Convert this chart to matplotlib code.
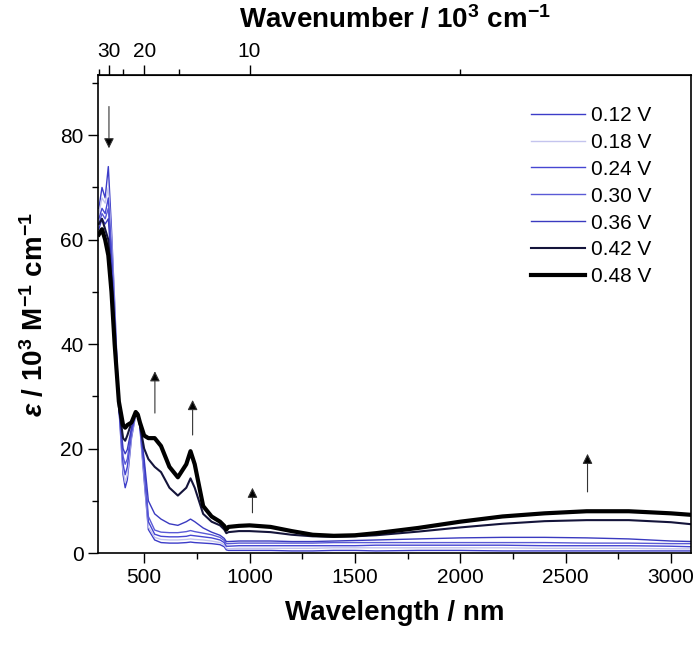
import numpy as np
import matplotlib
matplotlib.use("Agg")
import matplotlib.pyplot as plt
import matplotlib.ticker as mticker

plt.rcParams['font.family'] = ['Liberation Sans', 'DejaVu Sans']
plt.rcParams['mathtext.fontset'] = 'custom'
plt.rcParams['mathtext.rm'] = 'Liberation Sans:bold'
plt.rcParams['mathtext.it'] = 'Liberation Sans:italic:bold'
plt.rcParams['mathtext.default'] = 'regular'

# wavelength grid (nm)
WL = [285, 300, 315, 330, 345, 360, 380, 400, 410, 420, 440, 460, 470, 480, 500,
      520, 550, 580, 620, 660, 700, 720, 740, 780, 820, 860, 880, 890, 900, 950,
      1000, 1100, 1200, 1300, 1400, 1500, 1600, 1800, 2000, 2200, 2400, 2600,
      2800, 3000, 3100]

# epsilon / 10^3 M^-1 cm^-1
E_012 = [66, 70, 68, 74, 62, 48, 28, 15, 12.5, 14, 22, 26.5, 26.8, 24, 14,
         4.5, 2.5, 2.0, 1.9, 1.9, 2.0, 2.1, 2.0, 1.9, 1.8, 1.6, 1.2, 0.6, 0.5, 0.5,
         0.5, 0.5, 0.4, 0.4, 0.5, 0.5, 0.4, 0.5, 0.5, 0.4, 0.4, 0.4,
         0.4, 0.4, 0.4]
E_018 = [65, 68, 67, 70, 60, 47, 28, 16, 13.5, 15, 22.5, 26.5, 26.8, 24, 15,
         5.0, 3.0, 2.6, 2.5, 2.5, 2.6, 2.7, 2.6, 2.5, 2.3, 2.0, 1.6, 0.9, 0.8, 0.9,
         0.9, 0.9, 0.9, 0.9, 1.0, 1.0, 1.0, 1.0, 1.0, 1.0, 0.9, 0.9,
         0.9, 0.8, 0.8]
E_024 = [64, 66, 65, 68, 58, 46, 28, 17, 15, 16.5, 23, 26.7, 26.8, 24.2, 16,
         6.0, 3.6, 3.2, 3.1, 3.1, 3.2, 3.4, 3.3, 3.1, 2.9, 2.5, 2.0, 1.3, 1.3, 1.4,
         1.4, 1.4, 1.4, 1.4, 1.4, 1.4, 1.5, 1.5, 1.5, 1.5, 1.4, 1.4,
         1.4, 1.3, 1.2]
E_030 = [63, 65, 64, 66, 57, 45, 28, 18.5, 17, 18, 23.5, 26.8, 26.8, 24.3, 17,
         7.0, 4.4, 4.0, 3.9, 3.9, 4.1, 4.3, 4.1, 3.8, 3.5, 3.0, 2.4, 1.8, 1.8, 1.9,
         1.9, 1.9, 1.9, 1.9, 2.0, 2.0, 2.0, 2.0, 2.0, 2.0, 2.0, 1.9,
         1.9, 1.8, 1.8]
E_036 = [62, 64, 63, 64, 55, 44, 28, 20, 19, 19.8, 24, 26.8, 26.8, 24.5, 18,
         10, 7.5, 6.5, 5.6, 5.3, 6.0, 6.5, 6.0, 4.8, 4.0, 3.4, 2.8, 2.2, 2.2, 2.3,
         2.3, 2.3, 2.2, 2.2, 2.3, 2.4, 2.5, 2.7, 2.9, 3.0, 3.0, 2.9,
         2.7, 2.3, 2.2]
E_042 = [63, 64, 62, 60, 52, 41, 28, 22, 21.5, 22.5, 25, 27, 26.5, 24.5, 20,
         18, 16.5, 15.5, 12.5, 11, 12.5, 14.3, 12.5, 7.5, 6.0, 5.3, 4.5, 3.8, 4.0, 4.2,
         4.2, 4.0, 3.5, 3.2, 3.1, 3.2, 3.4, 4.1, 4.9, 5.6, 6.1, 6.3,
         6.3, 5.9, 5.5]
E_048 = [61, 62, 60, 57, 50, 40, 29, 24.5, 24, 24.5, 25, 27, 26.5, 25, 22.5,
         22, 22, 20.5, 16.5, 14.5, 17, 19.5, 17, 9.0, 7.0, 6.0, 5.2, 4.5, 5.0, 5.2,
         5.3, 5.0, 4.2, 3.5, 3.3, 3.4, 3.8, 4.8, 6.0, 7.0, 7.6, 8.0,
         8.0, 7.6, 7.3]

LABELS = ["0.12 V", "0.18 V", "0.24 V", "0.30 V", "0.36 V", "0.42 V", "0.48 V"]
SERIES = [E_012, E_018, E_024, E_030, E_036, E_042, E_048]
COLORS = ["#3c3cc8", "#c4c4ee", "#4646d2", "#5a5ad6", "#3a3ac0", "#14143a", "#000000"]
WIDTHS = [1.0, 1.0, 1.0, 1.0, 1.0, 1.5, 3.0]

# arrows: (wavelength, tail, tip)
ARROWS = [(333, 85.5, 77.5), (551, 26.8, 34.8), (730, 22.6, 29.3),
          (1014, 7.7, 12.5), (2604, 11.7, 19.0)]

fig = plt.figure(figsize=(6.96, 6.51), dpi=100)
ax = fig.add_axes([0.1408, 0.1505, 0.852, 0.734])

for y, lab, c, lw in zip(SERIES, LABELS, COLORS, WIDTHS):
    ax.plot(WL, y, color=c, lw=lw, label=lab)

for xa, y0, y1 in ARROWS:
    ax.annotate("", xy=(xa, y1), xytext=(xa, y0),
                arrowprops=dict(arrowstyle="-|>", color="#555555", lw=0.8,
                                mutation_scale=15, shrinkA=0, shrinkB=0,
                                fc="black", ec="#333333"))

ax.set_xlim(281, 3095)
ax.set_ylim(0, 91.5)
ax.xaxis.set_major_locator(mticker.MultipleLocator(500))
ax.xaxis.set_minor_locator(mticker.MultipleLocator(250))
ax.yaxis.set_major_locator(mticker.MultipleLocator(20))
ax.yaxis.set_minor_locator(mticker.MultipleLocator(10))
ax.tick_params(which="both", direction="out", width=1, labelsize=15,
               top=False, right=False)
ax.tick_params(which="major", length=7)
ax.tick_params(which="minor", length=4)
for sp in ax.spines.values():
    sp.set_linewidth(1.2)

ax.set_xlabel("Wavelength / nm", fontsize=20, fontweight="bold", labelpad=10)
ax.set_ylabel(r"$\mathit{ε}$ / 10$^{3}$ M$^{-1}$ cm$^{-1}$", fontsize=20,
              fontweight="bold", labelpad=8)

top = ax.secondary_xaxis("top", functions=(lambda w: 1e4 / np.asarray(w, float),
                                            lambda k: 1e4 / np.asarray(k, float)))
top.xaxis.set_major_locator(mticker.FixedLocator([10, 20, 30]))
top.xaxis.set_minor_locator(mticker.FixedLocator([5, 15, 25, 35]))
top.tick_params(which="both", direction="out", width=1, labelsize=15)
top.tick_params(which="major", length=7)
top.tick_params(which="minor", length=4)
top.set_xlabel(r"Wavenumber / 10$^{3}$ cm$^{-1}$", fontsize=20,
               fontweight="bold", labelpad=10)

ax.legend(loc="upper right", bbox_to_anchor=(0.965, 0.975), frameon=False,
          fontsize=15, handlelength=2.6, labelspacing=0.38, handletextpad=0.3)

fig.savefig("out.png", dpi=100)
